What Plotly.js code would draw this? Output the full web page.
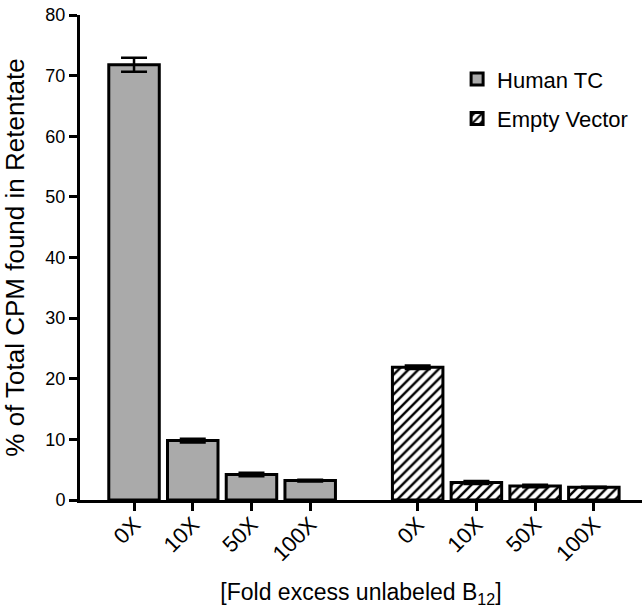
<!DOCTYPE html>
<html><head><meta charset="utf-8">
<script src="https://cdn.plot.ly/plotly-3.0.1.min.js"></script>
<style>html,body{margin:0;padding:0;background:#fff}</style>
</head><body>
<div id="chart" style="width:642px;height:608px"></div>
<script>
const tickLabels = ["0X","10X","50X","100X"];
const humanPos = [0,1,2,3];
const emptyPos = [4.83,5.83,6.83,7.83];
const humanTC = [71.8, 9.8, 4.2, 3.2];
const humanErr = [1.15, 0.3, 0.3, 0.15];
const emptyVec = [21.9, 2.9, 2.3, 2.1];
const emptyErr = [0.3, 0.25, 0.2, 0.1];

const font = "Liberation Sans, Arial, sans-serif";
const errStyle = {type:"data", visible:true, thickness:2.5, width:13, color:"#000"};
const traces = [
  {type:"bar", name:"Human TC", legendgroup:"a", x:humanPos, y:humanTC,
   error_y:Object.assign({array:humanErr}, errStyle),
   width:0.86,
   marker:{color:"#aaaaaa", line:{color:"#000", width:3}}},
  {type:"bar", name:"Empty Vector", legendgroup:"b", x:emptyPos, y:emptyVec,
   error_y:Object.assign({array:emptyErr}, errStyle),
   width:0.86,
   marker:{color:"#ffffff", line:{color:"#000", width:3},
     pattern:{shape:"/", fgcolor:"#000", bgcolor:"#fff", size:7, solidity:0.35}}}
];
const layout = {
  width:642, height:608,
  margin:{l:80, r:0, t:15, b:108},
  paper_bgcolor:"#fff", plot_bgcolor:"#fff",
  font:{family:font, color:"#000", size:18},
  showlegend:true,
  barmode:"overlay",
  legend:{x:0.671, y:0.911, xanchor:"left", yanchor:"top", font:{size:22, family:font},
          bgcolor:"rgba(0,0,0,0)", itemwidth:30, traceorder:"grouped", tracegroupgap:8},
  xaxis:{range:[-0.92, 8.65], showgrid:false, zeroline:false,
    tickmode:"array",
    tickvals:humanPos.concat(emptyPos), ticktext:tickLabels.concat(tickLabels),
    tickangle:-45, ticks:"outside", ticklen:8, tickwidth:3, tickcolor:"#000",
    ticklabelstandoff:-8,
    showline:true, linewidth:3, linecolor:"#000",
    tickfont:{size:22, family:font, color:"#000"},
    title:{text:"[Fold excess unlabeled B<sub>12</sub>]", font:{size:23}, standoff:24}},
  yaxis:{range:[0,80], dtick:10, showgrid:false, zeroline:false,
    ticks:"outside", ticklen:8, tickwidth:3, tickcolor:"#000",
    showline:true, linewidth:3, linecolor:"#000",
    tickfont:{size:18},
    title:{text:"% of Total CPM found in Retentate", font:{size:26}, standoff:14}}
};
Plotly.newPlot("chart", traces, layout, {displayModeBar:false, staticPlot:true});
</script>
</body></html>
